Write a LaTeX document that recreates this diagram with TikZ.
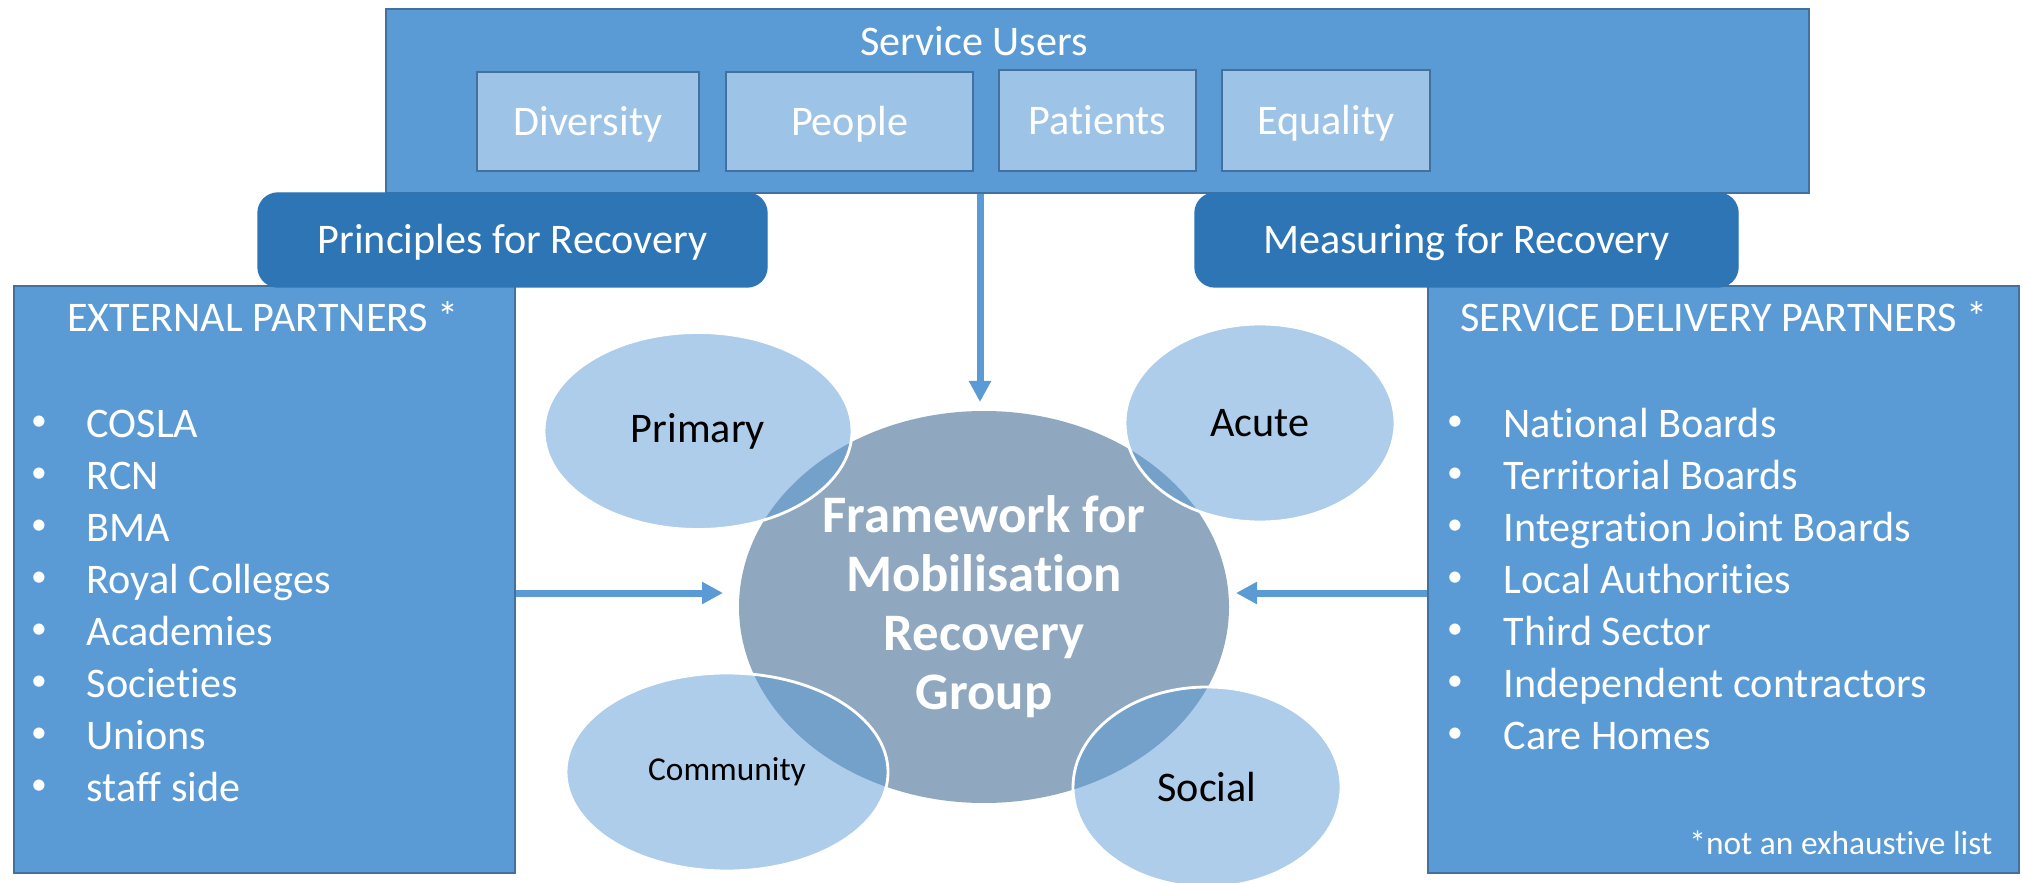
\documentclass[tikz,border=0pt]{standalone}
\usepackage{fontspec}
\setmainfont{Carlito}[Ligatures=NoCommon]
\usetikzlibrary{shapes.geometric,arrows.meta}
\definecolor{boxblue}{HTML}{5B9BD5}
\definecolor{edgeblue}{HTML}{41719C}
\definecolor{lightblue}{HTML}{9DC3E6}
\definecolor{darkblue}{HTML}{2E75B6}
\definecolor{hubgrey}{HTML}{8FA8BF}
\begin{document}
\begin{tikzpicture}[x=0.1mm,y=-0.1mm,
        bigbox/.style={draw=edgeblue,fill=boxblue,line width=0.6pt,inner sep=0pt},
        tagbox/.style={draw=edgeblue,fill=lightblue,line width=0.6pt,inner sep=0pt,text height=7.7pt,text depth=0pt,text=white,font=\fontsize{12}{14}\selectfont},
        pillbox/.style={draw=darkblue,fill=darkblue,rounded corners=2mm,inner sep=0pt,text height=7.7pt,text depth=0pt,text=white,font=\fontsize{12}{14}\selectfont},
        hub/.style={ellipse,fill=hubgrey,inner sep=0pt,text=white,align=center,font=\bfseries\fontsize{15}{16.8}\selectfont},
        spoke/.style={ellipse,draw=white,line width=0.8pt,fill=boxblue,fill opacity=0.5,text opacity=1,inner sep=0pt,font=\fontsize{12}{14}\selectfont},
        wtext/.style={text=white,inner sep=0pt,font=\fontsize{12}{14}\selectfont},
        dot/.style={text=white,inner sep=0pt,font=\fontsize{9}{10}\selectfont},
        flow/.style={draw=boxblue,line width=0.7mm,-{Triangle[length=2.1mm,width=2.1mm]}}]
        \useasboundingbox (0,0) rectangle (2022,883);
        % service users panel
        \node[bigbox,minimum width=142.3mm,minimum height=18.4mm] (users) at (1097.5,101) {};
        \node[wtext,anchor=base] (userstitle) at (974,56) {Service Users};
        \node[tagbox,minimum width=22.2mm,minimum height=9.9mm] (diversity) at (588,121.5) {Diversity};
        \node[tagbox,minimum width=24.7mm,minimum height=9.9mm] (people) at (849.5,121.5) {People};
        \node[tagbox,minimum width=19.7mm,minimum height=10.1mm] (patients) at (1097.5,120.5) {Patients};
        \node[tagbox,minimum width=20.8mm,minimum height=10.1mm] (equality) at (1326,120.5) {Equality};
        % partner panels
        \node[bigbox,minimum width=50.1mm,minimum height=58.7mm] (extpartners) at (264.5,579.5) {};
        \node[bigbox,minimum width=59.1mm,minimum height=58.7mm] (sdpartners) at (1723.5,579.5) {};
        \node[pillbox,minimum width=50.9mm,minimum height=9.4mm] (principles) at (512.5,240) {Principles for Recovery};
        \node[pillbox,minimum width=54.3mm,minimum height=9.4mm] (measuring) at (1466.5,240) {Measuring for Recovery};
        \node[wtext,anchor=base] (exthead) at (263,332) {EXTERNAL PARTNERS *};
        \node[wtext,anchor=base] (sdhead) at (1724,332) {SERVICE DELIVERY PARTNERS *};
        \foreach \txt [count=\i from 0] in {COSLA,RCN,BMA,Royal Colleges,Academies,Societies,Unions,staff side} {
            \node[dot] (extdot\i) at (39,423+52*\i) {\textbullet};
            \node[wtext,anchor=base west] (ext\i) at (86,437.6+52*\i) {\txt};
        }
        \foreach \txt [count=\i from 0] in {National Boards,Territorial Boards,Integration Joint Boards,Local Authorities,Third Sector,Independent contractors,Care Homes} {
            \node[dot] (sddot\i) at (1455,423+52*\i) {\textbullet};
            \node[wtext,anchor=base west] (sd\i) at (1503,437.6+52*\i) {\txt};
        }
        \node[wtext,anchor=base east,font=\fontsize{9.5}{11}\selectfont] (footnote) at (1993,854) {*not an exhaustive list};
        % the group and its four sectors
        \node[hub,minimum width=49mm,minimum height=39.2mm] (fmrg) at (984,607) {Framework for\\Mobilisation\\Recovery\\Group};
        \node[spoke,minimum width=30.8mm,minimum height=19.7mm] (primary) at (698,431) {Primary};
        \node[spoke,minimum width=27mm,minimum height=19.8mm] (acute) at (1260,423) {Acute};
        \node[spoke,minimum width=32.2mm,minimum height=19.8mm,font=\fontsize{9.5}{11}\selectfont] (community) at (727,772) {Community};
        \node[spoke,minimum width=26.8mm,minimum height=20mm] (social) at (1207,787) {Social};
        % arrows into the group
        \coordinate (downtip) at (980,402);
        \coordinate (lefttip) at (723,593);
        \coordinate (righttip) at (1236,593);
        \draw[flow] (users.south -| downtip) -- (downtip);
        \draw[flow] (extpartners.east |- lefttip) -- (lefttip);
        \draw[flow] (sdpartners.west |- righttip) -- (righttip);
    \end{tikzpicture}
\end{document}
